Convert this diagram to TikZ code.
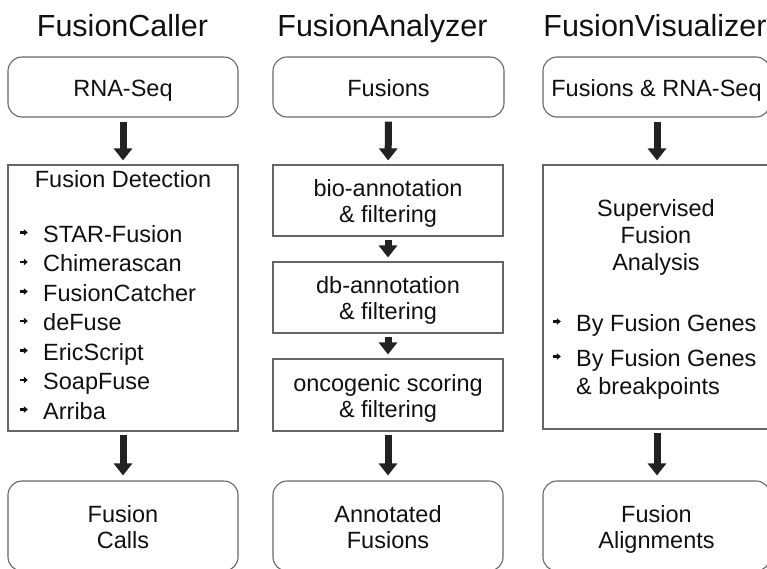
\documentclass[tikz,border=0pt]{standalone}
\usepackage{fontspec}
\setmainfont{Liberation Sans}
\usetikzlibrary{arrows.meta}
\definecolor{boxgray}{HTML}{666666}
\definecolor{arrowc}{HTML}{222222}
\definecolor{txt}{HTML}{111111}
\newcommand{\bodyfont}{\fontsize{23.5}{26}\selectfont}
\newcommand{\bul}{\makebox[27pt][l]{\hspace{3pt}\tikz[baseline=0pt]\draw[draw=txt, line width=2.2pt, -{Triangle[width=6.5pt,length=4pt]}] (0pt,9.5pt) -- (7.5pt,9.5pt);}}
\begin{document}
\begin{tikzpicture}[x=1pt,y=-1pt,
  title/.style={anchor=base, inner sep=0pt, font=\fontsize{30.5}{33}\selectfont, text=txt},
  rbox/.style={draw=boxgray, line width=1.1pt, rounded corners=14pt, inner sep=0pt,
    align=center, font=\bodyfont, text=txt, text height=18.5pt, text depth=0.5pt},
  sbox/.style={draw=boxgray, line width=1.1pt, inner sep=0pt, align=center,
    font=\bodyfont, text=txt, text height=18.5pt, text depth=0.5pt},
  twoline/.style={text height=44.5pt, text depth=0.5pt},
  lbl/.style={anchor=base, inner sep=0pt, align=center, font=\bodyfont, text=txt},
  item/.style={anchor=base west, inner sep=0pt, font=\bodyfont, text=txt},
  fat/.style={draw=arrowc, line width=7pt, -{Triangle[width=18pt,length=12pt]}}
]
\useasboundingbox (0,0) rectangle (767,568);

% titles
\node[title] (t1) at (122.5,36) {FusionCaller};
\node[title] (t2) at (382.5,36) {FusionAnalyzer};
\node[title] (t3) at (655,36) {FusionVisualizer};

% column 1
\node[rbox, minimum width=230, minimum height=60] (rna) at (123,87) {RNA-Seq};
\node[sbox, minimum width=230, minimum height=266] (det) at (123,298) {};
\node[lbl] (dett) at (123,187) {Fusion Detection};
\node[item] (i1) at (16,242) {\bul STAR-Fusion};
\node[item] (i2) at (16,271.5) {\bul Chimerascan};
\node[item] (i3) at (16,301) {\bul FusionCatcher};
\node[item] (i4) at (16,330.5) {\bul deFuse};
\node[item] (i5) at (16,360) {\bul EricScript};
\node[item] (i6) at (16,389.5) {\bul SoapFuse};
\node[item] (i7) at (16,419) {\bul Arriba};
\node[rbox, twoline, minimum width=230, minimum height=90] (calls) at (123,526) {Fusion\\Calls};

% column 2
\node[rbox, minimum width=231, minimum height=60] (fus) at (388.5,87) {Fusions};
\node[sbox, twoline, minimum width=230, minimum height=71] (bio) at (388,200.5) {bio-annotation\\\& filtering};
\node[sbox, twoline, minimum width=230, minimum height=71] (db) at (388,297.5) {db-annotation\\\& filtering};
\node[sbox, twoline, minimum width=230, minimum height=72] (onc) at (388,395) {oncogenic scoring\\\& filtering};
\node[rbox, twoline, minimum width=230, minimum height=90] (ann) at (388,526) {Annotated\\Fusions};

% column 3
\node[rbox, minimum width=227, minimum height=60] (fr) at (656.5,87) {Fusions \& RNA-Seq};
\node[sbox, minimum width=227, minimum height=264] (sup) at (656.5,297) {};
\node[lbl, font=\fontsize{23.5}{27}\selectfont] (supt) at (656,270) {Supervised\\Fusion\\Analysis};
\node[item] (s1) at (549,331) {\bul By Fusion Genes};
\node[item, align=left, font=\fontsize{23.5}{28}\selectfont] (s2) at (549,394) {\bul By Fusion Genes\\\hspace*{27pt}\& breakpoints};
\node[rbox, twoline, minimum width=227, minimum height=90] (ali) at (656.5,526) {Fusion\\Alignments};

% arrows
\draw[fat, shorten <=4pt, shorten >=4pt] (rna) -- (det);
\draw[fat, shorten <=3pt, shorten >=5pt] (det) -- (calls);
\draw[fat, shorten <=4pt, shorten >=4pt] (fus) -- (bio);
\draw[fat, shorten <=3pt, shorten >=4pt] (bio) -- (db);
\draw[fat, shorten <=3pt, shorten >=4pt] (db) -- (onc);
\draw[fat, shorten <=3pt, shorten >=5pt] (onc) -- (ann);
\draw[fat, shorten <=4pt, shorten >=4pt] (fr.south -| 657,0) -- (sup.north -| 657,0);
\draw[fat, shorten <=3pt, shorten >=5pt] (sup.south -| 657,0) -- (ali.north -| 657,0);
\end{tikzpicture}
\end{document}
